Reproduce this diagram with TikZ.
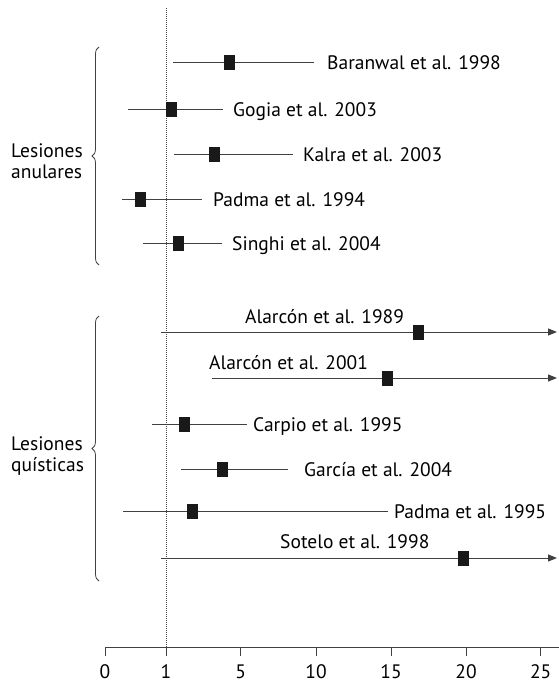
\documentclass[tikz,border=0pt]{standalone}
\usepackage{fontspec}
\setmainfont{PT Sans}
\usetikzlibrary{arrows.meta, positioning, decorations.pathreplacing}

\begin{document}
\begin{tikzpicture}[
    x=1pt, y=-1pt,
    font=\fontsize{19.5}{20.5}\selectfont,
    ci/.style={draw=black!75, line width=1pt},
    open/.style={ci, -{Triangle[length=9pt, width=7pt]}},
    est/.style={rectangle, fill=black!90, minimum width=11pt, minimum height=15pt, inner sep=0pt},
    study/.style={anchor=base west, inner sep=0pt, yshift=-7pt},
    over/.style={anchor=base west, inner sep=0pt},
    group/.style={align=left, anchor=west, inner sep=0pt},
    grbrace/.style={decorate, decoration={brace, amplitude=7pt}, draw=black!75, line width=0.8pt},
    axtick/.style={draw=black!75, line width=1pt},
    ticklabel/.style={anchor=base, inner sep=0pt}
]
\useasboundingbox (0,0) rectangle (559,685);

% Reference line at 1
\draw[black!70, line width=1pt, densely dotted] (166,8) -- (166,647);

% Groups
\draw[grbrace] (99,265) -- (99,47);
\node[group] (anular) at (11,161) {Lesiones\\anulares};
\draw[grbrace] (99,581) -- (99,316);
\node[group] (quistica) at (11,456) {Lesiones\\quísticas};

% Lesiones anulares
\draw[ci] (173,63) -- (314,63);
\node[est] (baranwalEst) at (229.5,63) {};
\node[study] (baranwal) at (327,63) {Baranwal et al. 1998};

\draw[ci] (128,109) -- (223,109);
\node[est] (gogiaEst) at (171,109) {};
\node[study] (gogia) at (233,109) {Gogia et al. 2003};

\draw[ci] (174,154) -- (293,154);
\node[est] (kalraEst) at (214,154) {};
\node[study] (kalra) at (303,154) {Kalra et al. 2003};

\draw[ci] (122,199) -- (202,199);
\node[est] (padmaAEst) at (140,199) {};
\node[study] (padmaA) at (213,199) {Padma et al. 1994};

\draw[ci] (143,243) -- (222,243);
\node[est] (singhiEst) at (178,243) {};
\node[study] (singhi) at (232,243) {Singhi et al. 2004};

% Lesiones quisticas
\draw[open] (161,332) -- (557,332);
\node[est] (alarconAEst) at (418,332) {};
\node[over] (alarconA) at (245,323) {Alarcón et al. 1989};

\draw[open] (212,378) -- (557,378);
\node[est] (alarconBEst) at (387,378) {};
\node[over] (alarconB) at (209,369) {Alarcón et al. 2001};

\draw[ci] (152,424) -- (247,424);
\node[est] (carpioEst) at (184,424) {};
\node[study] (carpio) at (253,424) {Carpio et al. 1995};

\draw[ci] (181,469) -- (288,469);
\node[est] (garciaEst) at (222,469) {};
\node[study] (garcia) at (304,469) {García et al. 2004};

\draw[ci] (123,511) -- (388,511);
\node[est] (padmaBEst) at (192,511) {};
\node[study] (padmaB) at (394,511) {Padma et al. 1995};

\draw[open] (161,558) -- (557,558);
\node[est] (soteloEst) at (463,558) {};
\node[over] (sotelo) at (280,548) {Sotelo et al. 1998};

% Axis
\draw[axtick] (105,647.5) -- (559,647.5);
\draw[axtick] (105,647.5) -- (105,656) node[ticklabel, below=8pt] {0};
\draw[axtick] (166,647.5) -- (166,656) node[ticklabel, below=8pt] {1};
\draw[axtick] (240.7,647.5) -- (240.7,656) node[ticklabel, below=8pt] {5};
\draw[axtick] (316,647.5) -- (316,656) node[ticklabel, below=8pt] {10};
\draw[axtick] (391,647.5) -- (391,656) node[ticklabel, below=8pt] {15};
\draw[axtick] (466,647.5) -- (466,656) node[ticklabel, below=8pt] {20};
\draw[axtick] (540.7,647.5) -- (540.7,656) node[ticklabel, below=8pt] {25};

\end{tikzpicture}
\end{document}
